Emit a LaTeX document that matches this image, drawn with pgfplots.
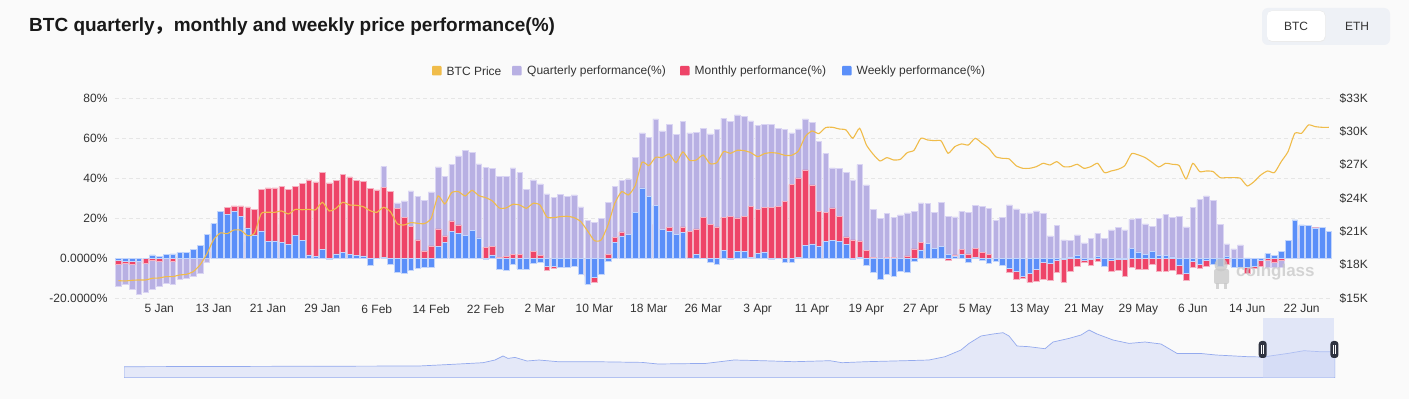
\documentclass[border=0pt]{standalone}
\usepackage{fontspec}
\setmainfont{Liberation Sans}
\newfontfamily\cjk{Noto Sans CJK SC}
\usepackage{pgfplots}
\usepackage{pgfplotstable}
\pgfplotsset{compat=1.18}
\definecolor{bg}{HTML}{FAFAFA}
\definecolor{qcol}{HTML}{B8B0E3}
\definecolor{qedge}{HTML}{DAD5F3}
\definecolor{mcol}{HTML}{EE4468}
\definecolor{medge}{HTML}{F5B3C2}
\definecolor{wcol}{HTML}{5B8FF9}
\definecolor{wedge}{HTML}{C3D5FB}
\definecolor{gold}{HTML}{F0BC4A}
\definecolor{txt}{HTML}{333333}
\definecolor{gridc}{HTML}{E6E6E6}
\definecolor{navfill}{HTML}{E4E8F8}
\definecolor{navline}{HTML}{94AAEE}
\definecolor{navsel}{HTML}{C9D3F6}
\definecolor{handle}{HTML}{2F3340}
\definecolor{btnbg}{HTML}{EEF1F6}

\pgfplotstableread{
d Q M W P
-1 -14 -3.2 -1.2 16.59
0 -13 -2.5 -1.5 16.56
1 -15.3 -2.8 -1.5 16.62
2 -18 -1 -1.7 16.65
3 -17 -2.7 0 16.65
4 -15.7 -0.8 1.7 16.8
5 -13.8 -1.5 1.0 16.83
6 -12.5 0.5 2.0 16.95
7 -12.8 -1.7 2.2 16.95
8 -10.5 1 2.8 17.1
9 -9.8 1.5 2.8 17.16
10 -8.8 2 4.3 17.4
11 -7.5 3 6.3 18.0
12 -1.8 7 11.8 18.99
13 3 12 17.3 20.28
14 6 20 23.5 20.88
15 8 25.3 21.8 20.82
16 8 26.2 23.3 21.15
17 9 26.2 21 21.12
18 8 25.7 15.2 20.64
19 9 24.5 11.7 20.85
20 15 34.5 13.7 22.62
21 16 35.2 8.3 22.74
22 16 35.2 8.7 22.74
23 17 35.8 8 22.86
24 16 34.3 7 22.59
25 18 36 11.3 23.0
26 18 37.5 9 22.97
27 19 39.2 1.7 23.0
28 19 38.2 1 22.97
29 22 42.8 4.3 23.64
30 20 37.7 -0.3 22.86
31 21 38.8 2.2 23.1
32 24 42 2.8 23.64
33 24 40.7 2 23.4
34 24 38.8 1.5 23.37
35 25 38.3 1.2 23.25
36 26 35 -3.3 22.89
37 28 34.2 0 22.74
38 45.8 35.5 0.3 23.19
39 31 33.5 -3.2 22.8
40 27.7 24.8 -7.2 21.72
41 28.7 20.3 -7.7 21.6
42 33.7 15.8 -6.2 21.81
43 31 9.2 -5 21.75
44 28.8 3.7 -4.3 21.72
45 33.2 6.2 -4.3 22.2
46 45.7 14.7 6 24.21
47 40.8 11.2 8 23.49
48 47 18.7 13.3 24.51
49 51.2 16.7 12.5 24.6
50 53.8 8 11.3 24.21
51 53 10 13.8 24.72
52 47.2 7 10.2 24.24
53 45.5 5.5 -0.3 24.06
54 44.8 5.8 1.7 23.76
55 40.8 0.5 -5.7 23.13
56 40.8 0.8 -6 23.13
57 45.2 2 -3 23.46
58 42.8 2 -5.3 23.4
59 34.5 -3 -5.3 23.1
60 39.2 3.5 -2.3 23.55
61 37.2 1.5 -2 23.4
62 32.2 -5.8 -3.8 22.32
63 30.3 -5 -3.8 22.26
64 32 -3 -4.7 22.35
65 30.8 -3 -4.7 22.38
66 31.7 -2 -4 22.26
67 25.7 -5 -8 21.9
68 18.8 -9 -13 21.06
69 17.8 -12.2 -9.5 20.19
70 19.8 -5 -8 20.25
71 27.8 1.8 -1.5 21.6
72 35.8 10.5 7.8 23.55
73 38.8 13.2 11.2 24.6
74 39.7 10 11.8 24.3
75 50.5 15 22.8 25.14
76 62.7 18 35.2 27.24
77 60.5 18 30.8 26.94
78 69.7 17 26.3 27.69
79 63.7 12 14.5 27.66
80 66.8 15.5 13.3 27.99
81 61.8 10 11.8 27.21
82 68.3 15.7 12.8 28.17
83 62.7 13.3 0.2 27.42
84 62.8 14.7 2 27.45
85 64.8 20.5 0 27.9
86 62.2 16.8 -2 27.12
87 64.5 15.7 -2.8 27.21
88 70 20.5 3.8 28.2
89 68.5 20.8 -0.7 28.05
90 71.7 20.2 3.5 28.32
91 70.8 20.8 3.3 28.29
92 68.7 25.8 0.5 28.11
93 66.5 24.3 2.3 27.75
94 66.8 25.3 3.2 28.02
95 67 25.5 -0.7 28.11
96 65 26 0 28.05
97 64.3 28.3 -2 27.87
98 62.7 36.8 -2 27.87
99 64.7 40.2 0.3 28.26
100 69.7 44.2 6.3 29.55
101 68 36.7 7.2 30.06
102 58.3 23.3 6 29.82
103 52.3 22.8 8.3 30.36
104 45.2 25.2 9 30.39
105 44.8 20.8 8.3 30.24
106 42.8 10.7 6.8 30.15
107 39.2 9.2 -0.5 29.4
108 46.8 8.7 0.5 30.3
109 36.7 3.8 -3.5 28.8
110 24.5 0.3 -7.2 27.96
111 19.8 -2 -10.5 27.36
112 22.3 0.3 -8.2 27.66
113 20.5 0.5 -8.8 27.45
114 21.7 -1 -6.7 27.51
115 22.7 1.2 -6.8 28.11
116 23.5 4.7 -1.3 28.32
117 27.7 8 4.2 29.4
118 27.3 5 7.3 29.25
119 23 2 4.8 29.19
120 27.8 3 5.8 29.16
121 21 -1.2 1.8 28.05
122 20.7 1.7 1 28.65
123 23.5 4.3 2 28.89
124 22.8 2.2 -2.2 28.8
125 26.5 4.8 0.5 29.4
126 25.8 3 -1.2 28.95
127 25 2 -2.7 28.5
128 19 -0.5 -1.3 27.75
129 20.3 -2 -3.5 27.6
130 26.7 -6.8 -5 27.54
131 24.7 -10.5 -6.7 26.94
132 22.5 -10 -9 26.7
133 22.7 -12 -7.7 26.7
134 23.7 -11.7 -5.7 26.85
135 22.3 -10.3 -2 27.15
136 11.2 -10.8 -2.3 27.0
137 16.5 -6.8 -0.8 27.3
138 9.2 -11.8 -0.5 26.85
139 9 -6.7 0.5 26.85
140 11.7 -4 1.3 27.06
141 7.7 -2 -0.8 26.7
142 9.8 -3.5 -0.5 26.85
143 12.5 -1.3 0.8 27.15
144 9.8 -4.2 -3.8 26.31
145 14.2 -6.5 -0.8 26.46
146 15.3 -6 -0.5 26.61
147 14.2 -8.8 -0.5 26.94
148 19.5 -4.3 4.8 28.02
149 19.8 -5.5 3.2 27.9
150 17.2 -5.5 1.8 27.66
151 15.8 -3.2 3.3 27.24
152 19.8 -6.3 1.3 26.82
153 21.8 -6.3 1.5 27.15
154 20.5 -6 0.7 27.06
155 20.8 -8.2 -3.5 26.94
156 15.7 -10.8 -7.5 25.74
157 25.3 -4.3 -1.7 27.15
158 29.3 -4.8 -2.8 26.4
159 31.2 -4 -1 26.46
160 29 -3.2 -2.8 26.4
161 17 -2 -4 25.86
162 7.2 -3.2 0.8 25.86
163 4.7 -2 -4.3 25.86
164 6.7 -2 -4.3 25.8
165 0.2 -7.3 -4.5 25.11
166 -1 -5.2 -3.8 25.5
167 -2 -3.8 -0.8 26.1
168 -4.7 -1.2 2.3 26.46
169 -4.5 -2 1.5 26.31
170 -4.5 -0.8 3.3 27.3
171 3 2 8.8 28.2
172 10 8 19.2 29.85
173 10 16.3 16.7 29.85
174 10 16.5 16.3 30.6
175 10 15.5 15.2 30.45
176 10 15 15.5 30.39
177 9 12 13.3 30.39
}\perf

\pgfplotstableread{
x h
124 11
419 11.7
451 13.3
483 15
495 17.7
503 21.7
508 19.3
515 20.3
527 16.7
539 17.7
558 16
594 16
642 15.3
658 13.7
706 14.3
734 17.7
762 17
794 16
830 17
842 15
866 16
905 17
929 17.7
945 21
961 27.7
969 34.3
981 41.7
993 43.7
1003 45
1009 41.7
1017 31.7
1029 31
1045 29
1053 35.7
1069 39.3
1081 42.7
1089 47.7
1097 43.7
1113 37.7
1129 34.3
1145 35.7
1161 33.7
1177 24.3
1200 24.3
1216 22.7
1248 21
1263 20.7
1288 24.3
1304 27
1320 26
1335 26
}\nav

\newcommand\tk{\fontsize{12bp}{14bp}\selectfont}

\begin{document}
\begin{tikzpicture}
\path[use as bounding box] (0,0) rectangle (1409bp,399bp);
\fill[bg] (0,0) rectangle (1409bp,399bp);

\begin{scope}[x=1bp,y=1bp]
% title
\node[anchor=west, text=black!90, inner sep=0] at (29,372.5)
  {\fontsize{19bp}{21bp}\selectfont\bfseries BTC quarterly{\cjk ，}monthly and weekly price performance(\%)};
% toggle
\fill[btnbg, rounded corners=6] (1262,354) rectangle (1390,391);
\fill[black!8, rounded corners=5] (1267.5,357) rectangle (1325.5,388.5);
\fill[white, rounded corners=5] (1267,358) rectangle (1325,388);
\node[text=txt] at (1296,372.5) {\tk BTC};
\node[text=txt] at (1357,372.5) {\tk ETH};
% legend
\fill[gold, rounded corners=1] (432,323.5) rectangle (441.5,333);
\node[anchor=west, inner sep=0, text=txt] at (446.5,328) {\tk BTC Price};
\fill[qcol, rounded corners=1] (512,323.5) rectangle (521.5,333);
\node[anchor=west, inner sep=0, text=txt] at (527,328) {\tk Quarterly performance(\%)};
\fill[mcol, rounded corners=1] (680,323.5) rectangle (689.5,333);
\node[anchor=west, inner sep=0, text=txt] at (694.5,328) {\tk Monthly performance(\%)};
\fill[wcol, rounded corners=1] (842,323.5) rectangle (851.5,333);
\node[anchor=west, inner sep=0, text=txt] at (856.5,328) {\tk Weekly performance(\%)};
\end{scope}

\begin{axis}[
  at={(115bp,100.7bp)}, anchor=south west, scale only axis,
  width=1217.2bp, height=200bp,
  xmin=-1.5, xmax=177.5, ymin=-20, ymax=80,
  axis line style={draw=none}, tick style={draw=none},
  ytick={-20,0,20,40,60,80},
  yticklabels={-20.0000\%,0.0000\%,20\%,40\%,60\%,80\%},
  xtick={5,13,...,173},
  xticklabels={5 Jan,13 Jan,21 Jan,29 Jan,6 Feb,14 Feb,22 Feb,2 Mar,10 Mar,18 Mar,26 Mar,3 Apr,11 Apr,19 Apr,27 Apr,5 May,13 May,21 May,29 May,6 Jun,14 Jun,22 Jun},
  ymajorgrids, major grid style={gridc, dash pattern=on 4bp off 3bp, line width=0.7bp},
  tick label style={font=\tk, text=txt},
  xticklabel style={yshift=-2.5bp},
  yticklabel style={xshift=-4bp},
]
\addplot[ybar, bar width=5.6bp, bar shift=0pt, fill=qcol, draw=qedge, line width=0.6bp] table[x=d,y=Q]{\perf};
\addplot[ybar, bar width=5.6bp, bar shift=0pt, fill=mcol, draw=medge, line width=0.6bp] table[x=d,y=M]{\perf};
\addplot[ybar, bar width=5.6bp, bar shift=0pt, fill=wcol, draw=wedge, line width=0.6bp] table[x=d,y=W]{\perf};
\end{axis}

% watermark
\begin{scope}[x=1bp,y=1bp, opacity=0.75]
\fill[black!22] (1221,134) circle (6.5);
\fill[black!22, rounded corners=2] (1214,115) rectangle (1229,130);
\fill[black!22] (1216,110) rectangle (1219,116);
\fill[black!22] (1224,110) rectangle (1227,116);
\node[text=black!22, font=\fontsize{17bp}{19bp}\selectfont\bfseries, anchor=west, inner sep=0] at (1236bp,127bp) {coinglass};
\end{scope}

\begin{axis}[
  at={(115bp,100.7bp)}, anchor=south west, scale only axis,
  width=1217.2bp, height=200bp,
  xmin=-1.5, xmax=177.5, ymin=15, ymax=33,
  hide x axis, axis y line*=right,
  axis line style={draw=none}, tick style={draw=none},
  ytick={15,18,...,33},
  yticklabels={\$15K,\$18K,\$21K,\$24K,\$27K,\$30K,\$33K},
  tick label style={font=\tk, text=txt},
  yticklabel style={xshift=4bp},
]
\addplot[gold, line width=1.1bp, smooth, tension=0.35] table[x=d,y=P]{\perf};
\end{axis}

\begin{axis}[
  at={(124bp,21.3bp)}, anchor=south west, scale only axis,
  width=1211bp, height=59.4bp,
  xmin=124, xmax=1335, ymin=0, ymax=59.4,
  hide axis,
]
\addplot[navline, line width=0.7bp, fill=navfill] table[x=x,y=h]{\nav} \closedcycle;
\fill[navsel, opacity=0.5] (axis cs:1262.7,0) rectangle (axis cs:1334.4,59.4);
\end{axis}

\begin{scope}[x=1bp,y=1bp]
\foreach \hx in {1262.7,1334.4}{
  \fill[handle, rounded corners=3] (\hx-4,41) rectangle (\hx+4,58);
  \draw[white, line width=0.6] (\hx-1,45) -- (\hx-1,54);
  \draw[white, line width=0.6] (\hx+1,45) -- (\hx+1,54);
}
\end{scope}
\end{tikzpicture}
\end{document}
